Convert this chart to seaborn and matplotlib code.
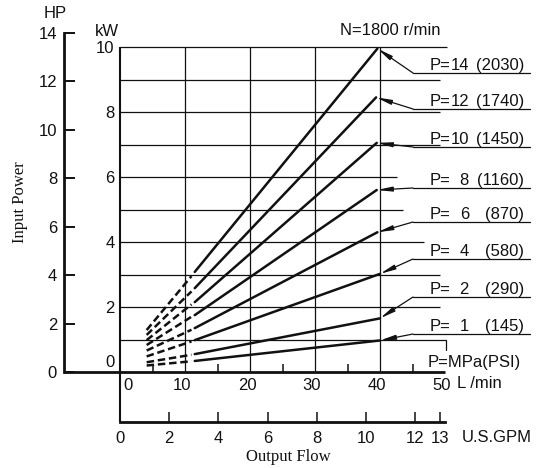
import matplotlib
matplotlib.use("Agg")
import matplotlib.pyplot as plt
import matplotlib.transforms as mtransforms
import numpy as np
import pandas as pd
import seaborn as sns

# ---------------- data ----------------
pressure_mpa = [14, 12, 10, 8, 6, 4, 2, 1]
pressure_psi = [2030, 1740, 1450, 1160, 870, 580, 290, 145]

# dashed (low-flow) part of each curve
dash_flow = [4.1, 11.0]
dash_kw_start = [1.29, 1.14, 0.98, 0.83, 0.66, 0.48, 0.30, 0.20]
dash_kw_end = [2.95, 2.48, 2.08, 1.70, 1.30, 0.94, 0.53, 0.33]

# solid part of each curve
solid_flow_start = 11.5
solid_flow_end = [39.6, 39.4, 39.5, 39.5, 39.6, 40.0, 40.0, 40.0]
solid_kw_start = [3.08, 2.58, 2.15, 1.75, 1.35, 0.98, 0.55, 0.34]
solid_kw_end = [9.95, 8.45, 7.05, 5.60, 4.30, 3.02, 1.65, 0.97]

lpm_ticks = [0, 10, 20, 30, 40, 50]
lpm_minor_ticks = [5, 15, 25, 35, 45]
kw_ticks = [0, 2, 4, 6, 8, 10]
hp_ticks = [0, 2, 4, 6, 8, 10, 12, 14]
gpm_ticks = [0, 2, 4, 6, 8, 10, 12, 13]
kw_grid = [1, 2, 3, 4, 5, 6, 7, 8, 9, 10]
lpm_grid = [10, 20, 30, 40]

KW_PER_HP = 0.7457
LPM_PER_GPM = 3.785

# ---------------- layout (pixels of the 547x468 picture) ----------------
W, H = 547, 468
X0_PX, PX_PER_LPM = 120, 6.5
Y0_PX, PX_PER_KW = 372, 32.5


def px2lpm(px):
    return (px - X0_PX) / PX_PER_LPM


def px2kw(py):
    return (Y0_PX - py) / PX_PER_KW


grid_end_px = [446, 440, 440, 424, 403, 397, 440, 440, 440, 447]
underline_px = [73, 109, 147, 188, 222, 259, 297, 334]

# ---------------- style ----------------
sns.set_style("white")
plt.rcParams["font.family"] = ["Liberation Sans", "DejaVu Sans"]
SERIF = ["Liberation Serif", "DejaVu Serif"]
INK = "#111111"
LABEL_FS = 12

fig = plt.figure(figsize=(W / 100, H / 100), dpi=100)
ymax_kw = 14 * KW_PER_HP
ax = fig.add_axes([X0_PX / W, (H - Y0_PX) / H,
                   50 * PX_PER_LPM / W, ymax_kw * PX_PER_KW / H])
ax.set_facecolor("none")

# ---------------- curves via seaborn ----------------
rows = []
for i, p in enumerate(pressure_mpa):
    rows.append((p, "dashed", dash_flow[0], dash_kw_start[i]))
    rows.append((p, "dashed", dash_flow[1], dash_kw_end[i]))
    rows.append((p, "solid", solid_flow_start, solid_kw_start[i]))
    rows.append((p, "solid", solid_flow_end[i], solid_kw_end[i]))
df = pd.DataFrame(rows, columns=["pressure", "segment", "flow", "kw"])

sns.lineplot(data=df, x="flow", y="kw", units="pressure", style="segment",
             style_order=["dashed", "solid"],
             dashes={"dashed": (3.0, 1.5), "solid": ""},
             estimator=None, sort=False, color=INK, linewidth=1.8,
             legend=False, ax=ax)

ax.set_xlim(0, 50)
ax.set_ylim(0, ymax_kw)
ax.set_xlabel("")
ax.set_ylabel("")
for s in ax.spines.values():
    s.set_visible(False)

# ---------------- grid ----------------
ax.hlines(kw_grid, 0, [px2lpm(p) for p in grid_end_px], colors=INK,
          linewidth=0.9, clip_on=False, zorder=1)
ax.vlines(lpm_grid, 0, 10, colors=INK, linewidth=0.9, zorder=1)
ax.plot([px2lpm(446)] * 2, [px2kw(350), 1.0], color=INK, lw=0.9,
        clip_on=False)

# axis lines
gpm_axis_kw = px2kw(422)
hp_axis_lpm = px2lpm(64)
ax.plot([0, 0], [gpm_axis_kw, 10], color=INK, lw=1.5, clip_on=False,
        solid_capstyle="butt")
ax.plot([hp_axis_lpm, 50], [0, 0], color=INK, lw=2.0, clip_on=False,
        solid_capstyle="butt")

# ---------------- main ticks (L/min, kW) ----------------
ax.set_xticks(lpm_ticks)
ax.set_xticklabels([str(v) for v in lpm_ticks])
ax.set_xticks(lpm_minor_ticks, minor=True)
ax.tick_params(axis="x", which="major", length=0, pad=4.5, labelsize=12,
               colors=INK)
ax.tick_params(axis="x", which="minor", direction="in", length=6, width=1.1,
               colors=INK, bottom=True)
ax.set_yticks(kw_ticks)
ax.set_yticklabels([str(v) for v in kw_ticks])
ax.tick_params(axis="y", length=0, pad=4, labelsize=12, colors=INK)

dpi_tr = fig.dpi_scale_trans
xl = ax.get_xticklabels()
xl[0].set_transform(xl[0].get_transform() + mtransforms.ScaledTranslation(0.08, 0, dpi_tr))
for t in xl[1:]:
    t.set_transform(t.get_transform() + mtransforms.ScaledTranslation(-0.03, 0, dpi_tr))
yl = ax.get_yticklabels()
yl[0].set_transform(yl[0].get_transform() + mtransforms.ScaledTranslation(0, 0.11, dpi_tr))

# ---------------- HP axis ----------------
hp_loc = (64 - X0_PX) / (50 * PX_PER_LPM)
sec_hp = ax.secondary_yaxis(hp_loc, functions=(lambda k: k / KW_PER_HP,
                                               lambda h: h * KW_PER_HP))
sec_hp.set_yticks(hp_ticks)
sec_hp.set_yticklabels([str(v) for v in hp_ticks])
sec_hp.tick_params(axis="y", direction="in", length=8, width=1.4, pad=5,
                   labelsize=12, colors=INK)
sec_hp.spines["left"].set_linewidth(2.0)
sec_hp.spines["left"].set_color(INK)

# ---------------- GPM axis ----------------
gpm_loc = -(422 - Y0_PX) / (ymax_kw * PX_PER_KW)
sec_gpm = ax.secondary_xaxis(gpm_loc, functions=(lambda l: l / LPM_PER_GPM,
                                                 lambda g: g * LPM_PER_GPM))
sec_gpm.set_xticks(gpm_ticks)
sec_gpm.set_xticklabels([str(v) for v in gpm_ticks])
sec_gpm.tick_params(axis="x", direction="in", length=7, width=1.1, pad=6.5,
                    labelsize=12, colors=INK)
sec_gpm.spines["bottom"].set_linewidth(2.0)
sec_gpm.spines["bottom"].set_color(INK)

# ---------------- pressure labels with leader arrows ----------------
ul_x0, ul_x1 = px2lpm(413), px2lpm(530)
for i, p in enumerate(pressure_mpa):
    uy = px2kw(underline_px[i])
    ax.plot([ul_x0, ul_x1], [uy, uy], color=INK, lw=0.9, clip_on=False)
    ax.annotate("", xy=(solid_flow_end[i], solid_kw_end[i]), xytext=(ul_x0, uy),
                arrowprops=dict(arrowstyle="-|>,head_length=0.9,head_width=0.14",
                                mutation_scale=10, lw=0.9, color=INK,
                                shrinkA=0, shrinkB=0),
                annotation_clip=False)
    by = px2kw(underline_px[i] - 3)
    ax.text(px2lpm(430), by, "P=", ha="left", va="baseline", fontsize=LABEL_FS,
            color=INK)
    ax.text(px2lpm(469), by, f"{p}", ha="right", va="baseline",
            fontsize=LABEL_FS, color=INK)
    ax.text(px2lpm(524), by, f"({pressure_psi[i]})", ha="right",
            va="baseline", fontsize=LABEL_FS, color=INK)

ax.text(px2lpm(428), px2kw(367), "P=MPa(PSI)", ha="left", va="baseline",
        fontsize=LABEL_FS, color=INK)
ax.text(px2lpm(340), px2kw(35), "N=1800 r/min", ha="left", va="baseline",
        fontsize=LABEL_FS, color=INK)

# ---------------- axis titles ----------------
fig.text(55 / W, 1 - 14 / H, "HP", ha="center", va="center", fontsize=12,
         color=INK)
fig.text(107 / W, 1 - 31 / H, "kW", ha="center", va="center", fontsize=12,
         color=INK)
fig.text(457 / W, 1 - 383 / H, "L /min", ha="left", va="center", fontsize=12,
         color=INK)
fig.text(462 / W, 1 - 438 / H, "U.S.GPM", ha="left", va="center",
         fontsize=12, color=INK)
fig.text(20 / W, 1 - 202 / H, "Input Power", ha="center", va="center",
         rotation=90, fontsize=12, family=SERIF, color=INK)
fig.text(288 / W, 1 - 457 / H, "Output Flow", ha="center", va="center",
         fontsize=12, family=SERIF, color=INK)

fig.savefig("out.png", dpi=100, facecolor="white")
